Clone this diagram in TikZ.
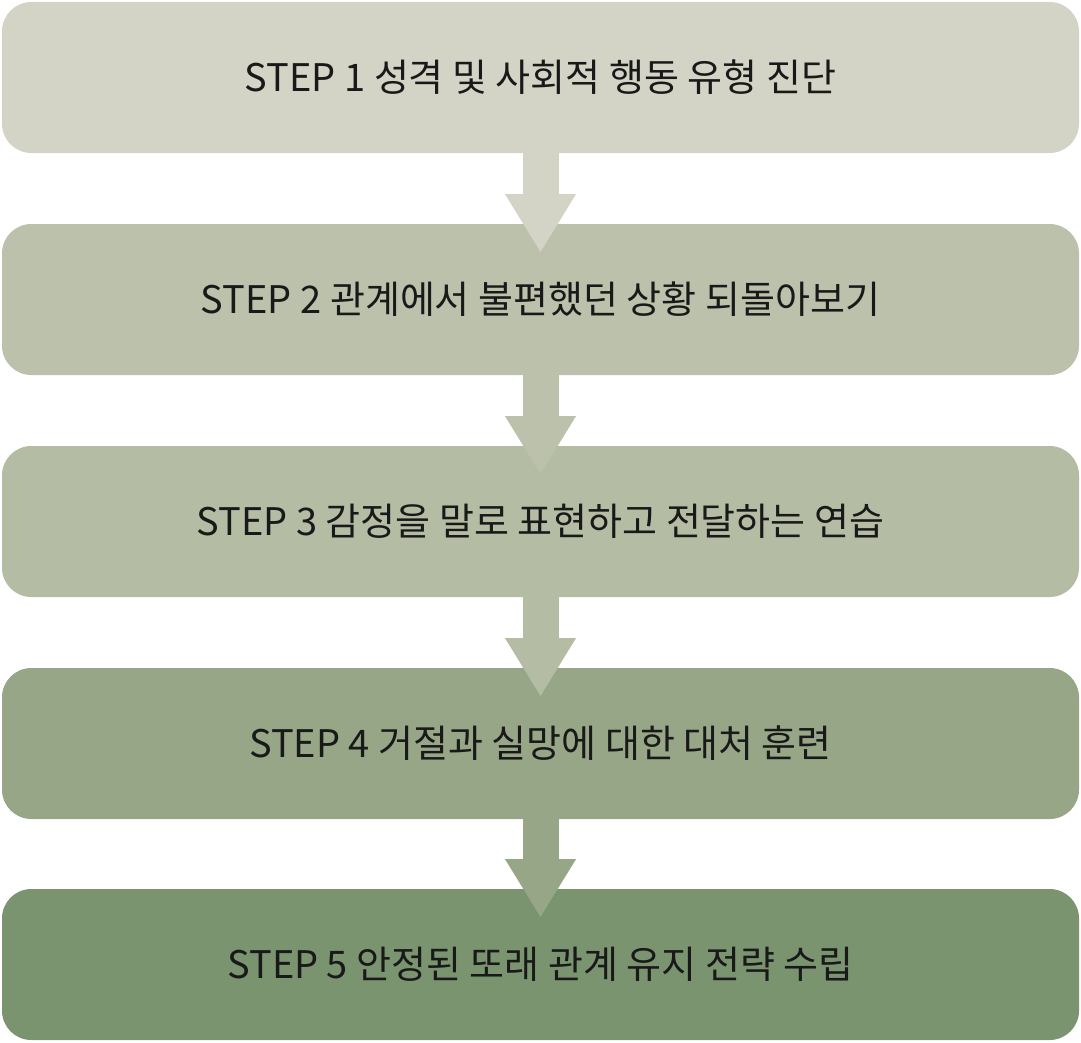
\documentclass[tikz,border=0pt]{standalone}
\usepackage{fontspec}
\setmainfont{Noto Sans CJK KR}
\usetikzlibrary{arrows.meta, positioning, calc}
\definecolor{stepA}{RGB}{211,212,197}
\definecolor{stepB}{RGB}{188,193,172}
\definecolor{stepC}{RGB}{180,189,164}
\definecolor{stepD}{RGB}{150,166,134}
\definecolor{stepE}{RGB}{122,148,112}
\tikzset{
  stepbox/.style={rectangle, rounded corners=22pt, minimum width=807.75pt, minimum height=113.25pt,
    inner sep=0pt, font=\fontsize{28.5}{34}\selectfont, text=black!90},
  flow/.style={line width=27pt, -{Triangle[width=50pt, length=44pt]}}
}
\begin{document}
\begin{tikzpicture}[x=0.75pt, y=-0.75pt]
    \useasboundingbox (0,0) rectangle (1081,1042);
    % 단계 상자
    \node[stepbox, fill=stepA] (s1) at (540.5, 77.5) {STEP 1 성격 및 사회적 행동 유형 진단};
    \node[stepbox, fill=stepB] (s2) at (540.5, 299.5) {STEP 2 관계에서 불편했던 상황 되돌아보기};
    \node[stepbox, fill=stepC] (s3) at (540.5, 521.5) {STEP 3 감정을 말로 표현하고 전달하는 연습};
    \node[stepbox, fill=stepD] (s4) at (540.5, 743.5) {STEP 4 거절과 실망에 대한 대처 훈련};
    \node[stepbox, fill=stepE] (s5) at (540.5, 964.5) {STEP 5 안정된 또래 관계 유지 전략 수립};

    % 화살표
    \coordinate (t2) at ($(s2.north)+(0,29)$);
    \coordinate (t3) at ($(s3.north)+(0,29)$);
    \coordinate (t4) at ($(s4.north)+(0,29)$);
    \coordinate (t5) at ($(s5.north)+(0,29)$);
    \draw[flow, stepA] (s1.south) -- (t2);
    \draw[flow, stepB] (s2.south) -- (t3);
    \draw[flow, stepC] (s3.south) -- (t4);
    \draw[flow, stepD] (s4.south) -- (t5);
\end{tikzpicture}
\end{document}
